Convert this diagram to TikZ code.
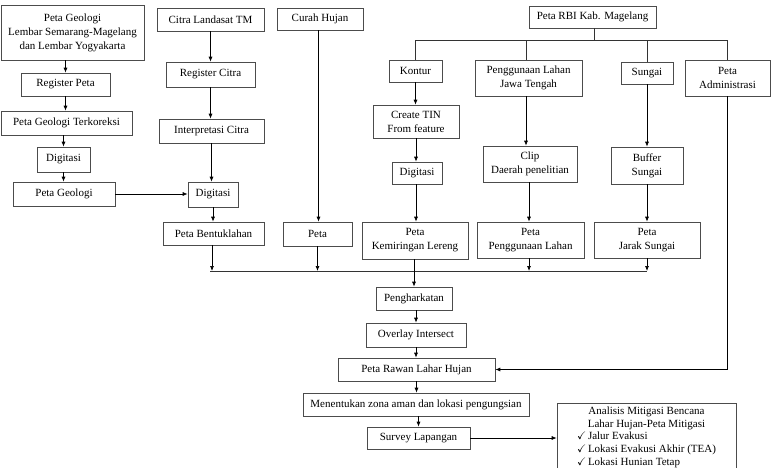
\documentclass[tikz,border=0pt]{standalone}
\usepackage{amssymb}
\usepackage{fontspec}
\setmainfont{Liberation Serif}
\usetikzlibrary{arrows.meta}
\usetikzlibrary{positioning}

\tikzset{
	kotak/.style={draw=black!70,line width=0.6pt,align=center,inner sep=0pt,font=\fontsize{11}{14}\selectfont},
	panah/.style={-{Latex[length=5pt,width=4pt]},line width=0.7pt},
	garis/.style={line width=0.7pt,draw=black!80},
}

\begin{document}
\begin{tikzpicture}[x=1pt,y=-1pt]
	\useasboundingbox (0,0) rectangle (771,468);
	
	\node[kotak,minimum width=143,minimum height=55] (geo) at (72.5,32.5) {Peta Geologi\\Lembar Semarang-Magelang\\dan Lembar Yogyakarta};
	\node[kotak,minimum width=89,minimum height=23] (regpeta) at (65.5,84.5) {Register Peta};
	\node[kotak,minimum width=131,minimum height=24] (terkoreksi) at (66.5,123) {Peta Geologi Terkoreksi};
	\node[kotak,minimum width=53,minimum height=25] (digitasi geo) at (63.5,159.5) {Digitasi};
	\node[kotak,minimum width=102,minimum height=24] (petageo) at (64,194) {Peta Geologi};
	
	\node[kotak,minimum width=107,minimum height=23] (citra) at (210.5,19.5) {Citra Landasat TM};
	\node[kotak,minimum width=89,minimum height=25] (regcitra) at (210.5,74.5) {Register Citra};
	\node[kotak,minimum width=105,minimum height=24] (interpretasi) at (211.5,131) {Interpretasi Citra};
	\node[kotak,minimum width=50,minimum height=25] (digitasi citra) at (213,194.5) {Digitasi};
	\node[kotak,minimum width=101,minimum height=23] (bentuk) at (213.5,233.5) {Peta Bentuklahan};
	
	\node[kotak,minimum width=86,minimum height=22] (curah) at (320,19) {Curah Hujan};
	\node[kotak,minimum width=69,minimum height=24] (peta hujan) at (317.5,234) {Peta};
	
	\node[kotak,minimum width=127,minimum height=22] (rbi) at (592.5,17) {Peta RBI Kab. Magelang};
	\node[kotak,minimum width=53,minimum height=22] (kontur) at (415.5,71) {Kontur};
	\node[kotak,minimum width=86,minimum height=33] (tin) at (416,121.5) {Create TIN\\From feature};
	\node[kotak,minimum width=50,minimum height=22] (digitasi kontur) at (417,173) {Digitasi};
	\node[kotak,minimum width=106,minimum height=37] (lereng) at (415,240.5) {Peta\\Kemiringan Lereng};
	
	\node[kotak,minimum width=107,minimum height=36] (guna) at (528.5,78) {Penggunaan Lahan\\Jawa Tengah};
	\node[kotak,minimum width=94,minimum height=36] (clip) at (530,164) {Clip\\Daerah penelitian};
	\node[kotak,minimum width=107,minimum height=36] (petaguna) at (530.5,240) {Peta\\Penggunaan Lahan};
	
	\node[kotak,minimum width=52,minimum height=22] (sungai) at (647,73) {Sungai};
	\node[kotak,minimum width=72,minimum height=37] (buffer) at (647,165.5) {Buffer\\Sungai};
	\node[kotak,minimum width=106,minimum height=36] (jarak) at (647,240) {Peta\\Jarak Sungai};
	
	\node[kotak,minimum width=85,minimum height=36] (admin) at (727.5,78) {Peta\\Administrasi};
	
	\node[kotak,minimum width=76,minimum height=23] (harkat) at (414,298.5) {Pengharkatan};
	\node[kotak,minimum width=100,minimum height=24] (overlay) at (416,335) {Overlay Intersect};
	\node[kotak,minimum width=157,minimum height=23] (rawan) at (416.5,369.5) {Peta Rawan Lahar Hujan};
	\node[kotak,minimum width=226,minimum height=23] (zona) at (416,404.5) {Menentukan zona aman dan lokasi pengungsian};
	\node[kotak,minimum width=103,minimum height=22] (survey) at (418.5,438) {Survey Lapangan};
	\node[kotak,minimum width=179,inner ysep=4pt,anchor=north,font=\fontsize{11}{12.7}\selectfont] (analisis) at (646.5,403) {Analisis Mitigasi Bencana\\Lahar Hujan-Peta Mitigasi\\\begin{tabular}{@{}l@{}}\checkmark\,Jalur Evakusi\\\checkmark\,Lokasi Evakusi Akhir (TEA)\\\checkmark\,Lokasi Hunian Tetap\end{tabular}};
	
	\draw[panah] (geo.south -| regpeta.north) -- (regpeta.north);
	\draw[panah] (regpeta.south) -- (regpeta.south |- terkoreksi.north);
	\draw[panah] (terkoreksi.south -| digitasi geo.north) -- (digitasi geo.north);
	\draw[panah] (digitasi geo.south) -- (digitasi geo.south |- petageo.north);
	\draw[panah] (petageo.east) -- (petageo.east -| digitasi citra.west);
	
	\draw[panah] (citra.south) -- (citra.south |- regcitra.north);
	\draw[panah] (regcitra.south) -- (regcitra.south |- interpretasi.north);
	\draw[panah] (interpretasi.south) -- (interpretasi.south |- digitasi citra.north);
	\draw[panah] (digitasi citra.south) -- (digitasi citra.south |- bentuk.north);
	
	\draw[panah] (curah.south -| 318.5,0) -- (peta hujan.north -| 318.5,0);
	
	\draw[garis] (rbi.south -| 594,0) -- ++(0,12) coordinate (cabang);
	\draw[garis] (kontur.north) |- (cabang) -| (admin.north);
	\draw[garis] (guna.north -| 526,0) -- (cabang -| 526,0);
	\draw[garis] (sungai.north) -- (sungai.north |- cabang);
	
	\draw[panah] (kontur.south) -- (kontur.south |- tin.north);
	\draw[panah] (tin.south) -- (tin.south |- digitasi kontur.north);
	\draw[panah] (digitasi kontur.south -| tin.south) -- (lereng.north -| tin.south);
	\draw[panah] (guna.south -| 526,0) -- (clip.north -| 526,0);
	\draw[panah] (clip.south -| 529,0) -- (petaguna.north -| 529,0);
	\draw[panah] (sungai.south) -- (sungai.south |- buffer.north);
	\draw[panah] (buffer.south) -- (buffer.south |- jarak.north);
	
	\coordinate (jalur) at (0,271);
	\draw[garis] (jalur -| 210,0) -- (jalur -| jarak.south);
	\draw[panah] (bentuk.south -| 212,0) -- (jalur -| 212,0);
	\draw[panah] (peta hujan.south) -- (peta hujan.south |- jalur);
	\draw[panah] (petaguna.south -| 529,0) -- (jalur -| 529,0);
	\draw[panah] (jarak.south) -- (jarak.south |- jalur);
	\draw[panah] (lereng.south -| harkat.north) -- (harkat.north);
	
	\draw[panah] (harkat.south -| overlay.north) -- (overlay.north);
	\draw[panah] (overlay.south) -- (overlay.south |- rawan.north);
	\draw[panah] (rawan.south) -- (rawan.south |- zona.north);
	\draw[panah] (zona.south -| survey.north) -- (survey.north);
	\draw[panah] (admin.south) |- (rawan.east);
	\draw[panah] (survey.east) -- (survey.east -| analisis.west);
	
\end{tikzpicture}
\end{document}
